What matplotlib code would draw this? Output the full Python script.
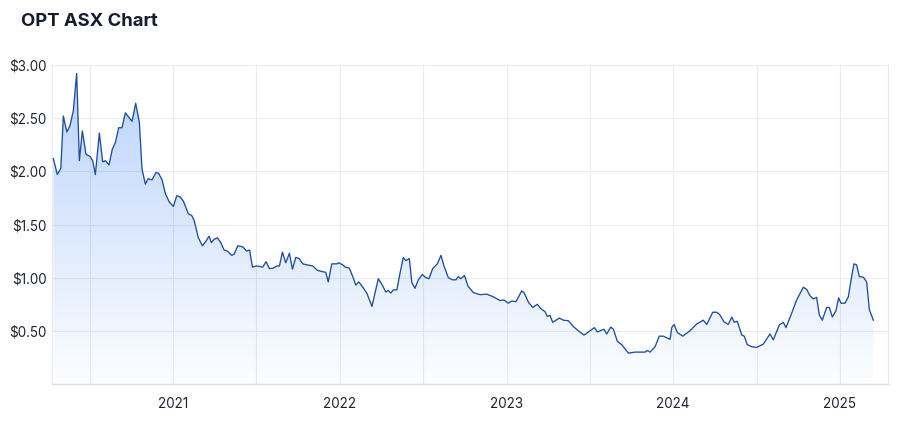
import numpy as np
import matplotlib
matplotlib.use("Agg")
import matplotlib.pyplot as plt
from matplotlib.ticker import FuncFormatter, FixedLocator

plt.rcParams['font.family'] = ['Inter', 'DejaVu Sans']

# decimal year, share price in A$
years = [2020.282, 2020.306, 2020.327, 2020.342, 2020.363, 2020.382, 2020.402, 2020.422,
         2020.438, 2020.456, 2020.478, 2020.502, 2020.518, 2020.534, 2020.558, 2020.578,
         2020.594, 2020.616, 2020.636, 2020.654, 2020.674, 2020.694, 2020.714, 2020.734,
         2020.754, 2020.776, 2020.798, 2020.814, 2020.834, 2020.850, 2020.874, 2020.898,
         2020.914, 2020.934, 2020.954, 2020.978, 2021.002, 2021.022, 2021.042, 2021.062,
         2021.092, 2021.112, 2021.126, 2021.152, 2021.176, 2021.196, 2021.216, 2021.230,
         2021.246, 2021.266, 2021.286, 2021.306, 2021.326, 2021.351, 2021.366, 2021.388,
         2021.418, 2021.441, 2021.459, 2021.476, 2021.502, 2021.538, 2021.558, 2021.578,
         2021.602, 2021.622, 2021.638, 2021.656, 2021.676, 2021.698, 2021.716, 2021.736,
         2021.756, 2021.778, 2021.805, 2021.838, 2021.865, 2021.886, 2021.916, 2021.931,
         2021.952, 2021.982, 2021.994, 2022.018, 2022.032, 2022.057, 2022.078, 2022.096,
         2022.114, 2022.138, 2022.162, 2022.181, 2022.193, 2022.231, 2022.255, 2022.276,
         2022.291, 2022.306, 2022.321, 2022.342, 2022.361, 2022.381, 2022.397, 2022.417,
         2022.432, 2022.451, 2022.471, 2022.495, 2022.516, 2022.535, 2022.557, 2022.585,
         2022.607, 2022.625, 2022.651, 2022.675, 2022.697, 2022.711, 2022.725, 2022.748,
         2022.769, 2022.801, 2022.841, 2022.881, 2022.921, 2022.961, 2022.985, 2023.011,
         2023.031, 2023.057, 2023.091, 2023.105, 2023.131, 2023.157, 2023.185, 2023.205,
         2023.231, 2023.245, 2023.261, 2023.277, 2023.297, 2023.317, 2023.341, 2023.371,
         2023.401, 2023.431, 2023.465, 2023.501, 2023.527, 2023.545, 2023.585, 2023.601,
         2023.625, 2023.641, 2023.665, 2023.691, 2023.731, 2023.771, 2023.811, 2023.831,
         2023.844, 2023.861, 2023.891, 2023.916, 2023.940, 2023.981, 2023.991, 2024.005,
         2024.024, 2024.057, 2024.100, 2024.141, 2024.180, 2024.201, 2024.237, 2024.261,
         2024.280, 2024.304, 2024.330, 2024.351, 2024.366, 2024.384, 2024.411, 2024.426,
         2024.444, 2024.471, 2024.501, 2024.540, 2024.580, 2024.600, 2024.636, 2024.660,
         2024.676, 2024.710, 2024.740, 2024.780, 2024.800, 2024.820, 2024.840, 2024.860,
         2024.876, 2024.894, 2024.920, 2024.936, 2024.954, 2024.976, 2024.992, 2025.006,
         2025.030, 2025.050, 2025.070, 2025.084, 2025.100, 2025.116, 2025.140, 2025.160,
         2025.176, 2025.200]
price = [2.12, 1.97, 2.03, 2.52, 2.37, 2.43, 2.57, 2.92,
         2.10, 2.38, 2.16, 2.14, 2.10, 1.97, 2.36, 2.09,
         2.10, 2.06, 2.21, 2.27, 2.41, 2.41, 2.55, 2.51,
         2.47, 2.64, 2.46, 2.02, 1.88, 1.93, 1.92, 1.99,
         1.98, 1.92, 1.79, 1.71, 1.67, 1.77, 1.76, 1.72,
         1.60, 1.585, 1.54, 1.375, 1.30, 1.34, 1.39, 1.33,
         1.36, 1.375, 1.33, 1.26, 1.25, 1.21, 1.22, 1.30,
         1.29, 1.25, 1.26, 1.10, 1.11, 1.10, 1.15, 1.085,
         1.09, 1.11, 1.11, 1.24, 1.14, 1.23, 1.08, 1.19,
         1.18, 1.13, 1.12, 1.11, 1.07, 1.06, 1.05, 0.96,
         1.13, 1.13, 1.14, 1.12, 1.10, 1.09, 1.01, 0.93,
         0.96, 0.91, 0.855, 0.78, 0.73, 0.99, 0.93, 0.865,
         0.88, 0.855, 0.885, 0.885, 1.04, 1.19, 1.16, 1.18,
         0.955, 0.90, 0.98, 1.03, 1.00, 0.99, 1.085, 1.13,
         1.21, 1.11, 1.00, 0.98, 0.98, 1.01, 0.99, 1.02,
         0.92, 0.86, 0.84, 0.845, 0.82, 0.785, 0.79, 0.76,
         0.78, 0.775, 0.875, 0.86, 0.77, 0.72, 0.75, 0.71,
         0.68, 0.635, 0.645, 0.58, 0.60, 0.62, 0.60, 0.595,
         0.54, 0.50, 0.46, 0.50, 0.53, 0.49, 0.515, 0.47,
         0.535, 0.515, 0.40, 0.37, 0.29, 0.30, 0.30, 0.30,
         0.315, 0.30, 0.35, 0.45, 0.45, 0.42, 0.53, 0.56,
         0.485, 0.45, 0.50, 0.565, 0.60, 0.56, 0.675, 0.675,
         0.65, 0.585, 0.56, 0.63, 0.58, 0.59, 0.46, 0.45,
         0.37, 0.35, 0.345, 0.375, 0.47, 0.415, 0.555, 0.58,
         0.53, 0.665, 0.79, 0.91, 0.89, 0.83, 0.80, 0.815,
         0.65, 0.60, 0.72, 0.72, 0.63, 0.69, 0.81, 0.76,
         0.76, 0.82, 1.01, 1.13, 1.12, 1.01, 1.005, 0.96,
         0.70, 0.60]

year_ticks = [2021, 2022, 2023, 2024, 2025]
price_ticks = [0.5, 1.0, 1.5, 2.0, 2.5, 3.0]

x = np.array(years)
y = np.array(price)

fig = plt.figure(figsize=(9.02, 4.26), dpi=100)
ax = fig.add_axes([52 / 902, 42 / 426, 836 / 902, 319 / 426])

x0, x1 = 2020.274, 2025.288
ax.set_xlim(x0, x1)
ax.set_ylim(0, 3.0)

# gradient fill under the line
poly = ax.fill_between(x, y, 0, color='none', lw=0)
grad = np.zeros((256, 1, 4))
grad[:, 0, 0] = 59 / 255
grad[:, 0, 1] = 130 / 255
grad[:, 0, 2] = 246 / 255
grad[:, 0, 3] = np.linspace(0.36, 0.015, 256)
im = ax.imshow(grad, extent=[x0, x1, 0, 3.0], aspect='auto', origin='upper', zorder=1)
path = poly.get_paths()[0]
im.set_clip_path(path, transform=ax.transData)

ax.plot(x, y, color='#1f4d9e', lw=0.95, zorder=3)

ax.xaxis.set_major_locator(FixedLocator(year_ticks))
ax.xaxis.set_minor_locator(FixedLocator([t - 0.5 for t in year_ticks] + [2025.5]))
ax.set_xticklabels([str(t) for t in year_ticks])
ax.yaxis.set_major_locator(FixedLocator(price_ticks))
ax.yaxis.set_major_formatter(FuncFormatter(lambda v, p: f"${v:.2f}"))

ax.grid(which='both', color='#ececec', lw=0.8, zorder=0)
ax.set_axisbelow(True)
ax.tick_params(which='both', length=0)
ax.tick_params(axis='x', pad=9, labelsize=9.7, labelcolor='#1f2430')
ax.tick_params(axis='y', pad=4, labelsize=9.7, labelcolor='#1f2430')
for s in ['top', 'right', 'left']:
    ax.spines[s].set_color('#ececec')
    ax.spines[s].set_linewidth(0.8)
ax.spines['bottom'].set_color('#dcdcdc')
ax.spines['bottom'].set_linewidth(1.0)

fig.text(21 / 902, 1 - 22 / 426, "OPT ASX Chart", fontsize=13.3, fontweight='bold',
         color='#161b2e', va='center', ha='left')

fig.savefig("out.png", dpi=100, facecolor='white')
